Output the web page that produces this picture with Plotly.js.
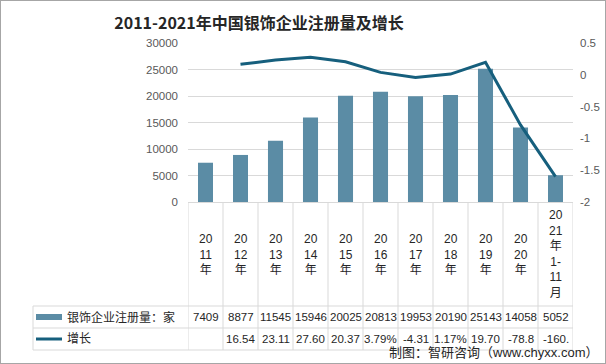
<!DOCTYPE html>
<html>
<head>
<meta charset="utf-8">
<script src="https://cdn.plot.ly/plotly-3.0.1.min.js"></script>
<style>
html,body{margin:0;padding:0;background:#fff;}
#wrap{position:relative;width:606px;height:364px;}
#chart{width:606px;height:364px;}
#frame{position:absolute;left:0;top:0;width:606px;height:364px;box-sizing:border-box;border:1px solid #a6a6a6;pointer-events:none;}
</style>
</head>
<body>
<div id="wrap"><div id="chart"></div><div id="frame"></div></div>
<script>
// ---- data ----
var categories = ['2011年','2012年','2013年','2014年','2015年','2016年','2017年','2018年','2019年','2020年','2021年1-11月'];
var categoryLabels = ['20<br>11<br>年','20<br>12<br>年','20<br>13<br>年','20<br>14<br>年','20<br>15<br>年','20<br>16<br>年','20<br>17<br>年','20<br>18<br>年','20<br>19<br>年','20<br>20<br>年','20<br>21<br>年<br>1-<br>11<br>月'];
var registrations = [7409, 8877, 11545, 15946, 20025, 20813, 19953, 20190, 25143, 14058, 5052];
var growthPct = [null, 16.54, 23.11, 27.60, 20.37, 3.79, -4.31, 1.17, 19.70, -78.8, -160.2];
var growthLabels = ['', '16.54', '23.11', '27.60', '20.37', '3.79%', '-4.31', '1.17%', '19.70', '-78.8', '-160.'];
var seriesNames = ['银饰企业注册量：家', '增长'];
var leftTicks = [0, 5000, 10000, 15000, 20000, 25000, 30000];
var leftTickText = ['0', '5000', '10000', '15000', '20000', '25000', '30000'];
var rightTicks = [-2, -1.5, -1, -0.5, 0, 0.5];
var rightTickText = ['-2', '-1.5', '-1', '-0.5', '0', '0.5'];

var barColor = '#5b8ca5';
var lineColor = '#165f7d';
var gridColor = '#d9d9d9';
var textColor = '#595959';
var FONT = 'Liberation Sans, "Noto Sans CJK SC", sans-serif';

// ---- geometry helpers (paper coords) ----
var L = 188, R = 573, T = 43, B = 202;
var PW = R - L, PH = B - T;
function px2x(p){ return (p - L) / PW; }
function px2y(p){ return (B - p) / PH; }

var growthRatio = growthPct.map(function(v){ return v === null ? null : v / 100; });

var traces = [
  {type:'bar', x:categories, y:registrations, name:seriesNames[0], marker:{color:barColor}, yaxis:'y', hoverinfo:'x+y'},
  {type:'scatter', mode:'lines', x:categories, y:growthRatio, name:seriesNames[1], line:{color:lineColor, width:3}, yaxis:'y2'}
];

var shapes = [];
var annotations = [];
var n = categories.length;
var yCatTop = px2y(B), yRow1 = px2y(306), yRow2 = px2y(328), yRow3 = px2y(350);
var xLeft = px2x(33);

// vertical cell lines
for (var i = 0; i <= n; i++) {
  shapes.push({type:'line', xref:'x', yref:'paper', x0:i-0.5, x1:i-0.5, y0:yCatTop, y1:yRow3, line:{color:gridColor, width:1}});
}
// horizontal lines
[yRow1, yRow2, yRow3].forEach(function(yy){
  shapes.push({type:'line', xref:'paper', yref:'paper', x0:xLeft, x1:1, y0:yy, y1:yy, line:{color:gridColor, width:1}});
});
shapes.push({type:'line', xref:'paper', yref:'paper', x0:xLeft, x1:xLeft, y0:yRow1, y1:yRow3, line:{color:gridColor, width:1}});

// legend keys in table
shapes.push({type:'rect', xref:'paper', yref:'paper', x0:px2x(36), x1:px2x(62), y0:px2y(320), y1:px2y(314), fillcolor:barColor, line:{width:0}});
shapes.push({type:'line', xref:'paper', yref:'paper', x0:px2x(36), x1:px2x(62), y0:px2y(339), y1:px2y(339), line:{color:lineColor, width:3}});

annotations.push({xref:'paper', yref:'paper', x:px2x(65), y:px2y(317), xanchor:'left', yanchor:'middle', text:seriesNames[0], showarrow:false, font:{family:FONT, size:12, color:'#262626'}});
annotations.push({xref:'paper', yref:'paper', x:px2x(65), y:px2y(339), xanchor:'left', yanchor:'middle', text:seriesNames[1], showarrow:false, font:{family:FONT, size:12, color:'#262626'}});

for (var j = 0; j < n; j++) {
  annotations.push({xref:'x', yref:'paper', x:categories[j], y:px2y(254), xanchor:'center', yanchor:'middle', text:categoryLabels[j], showarrow:false, font:{family:FONT, size:12, color:'#262626'}});
  annotations.push({xref:'x', yref:'paper', x:categories[j], y:px2y(317), xanchor:'center', yanchor:'middle', text:String(registrations[j]), showarrow:false, font:{family:FONT, size:11.5, color:'#262626'}});
  annotations.push({xref:'x', yref:'paper', x:categories[j], y:px2y(339), xanchor:'center', yanchor:'middle', text:growthLabels[j], showarrow:false, font:{family:FONT, size:11.5, color:'#262626'}});
}

// source note
annotations.push({xref:'paper', yref:'paper', x:px2x(600), y:px2y(352), xanchor:'right', yanchor:'middle', text:'制图：智研咨询（www.chyxx.com）', showarrow:false, font:{family:FONT, size:13, color:'#262626'}});

var layout = {
  width:606, height:364,
  margin:{l:L, r:606-R, t:T, b:364-B, pad:0},
  paper_bgcolor:'#fff', plot_bgcolor:'#fff',
  showlegend:false,
  bargap:0.57,
  title:{text:'2011-2021年中国银饰企业注册量及增长', font:{family:'"Noto Sans CJK SC", sans-serif', size:16, color:'#262626', weight:'bold'}, x:259/606, xref:'container', xanchor:'center', y:1-23/364, yref:'container', yanchor:'middle'},
  xaxis:{type:'category', showticklabels:false, showgrid:false, zeroline:false, showline:false, ticks:'', range:[-0.5, n-0.5], fixedrange:true},
  yaxis:{range:[0,30000], tickvals:leftTicks, ticktext:leftTickText, showgrid:true, gridcolor:gridColor, zeroline:true, zerolinecolor:gridColor, showline:false, ticks:'', ticklabelstandoff:9, tickfont:{family:FONT, size:11.5, color:textColor}},
  yaxis2:{overlaying:'y', side:'right', range:[-2,0.5], tickvals:rightTicks, ticktext:rightTickText, showgrid:false, zeroline:false, showline:false, ticks:'', ticklabelstandoff:6, tickfont:{family:FONT, size:11.5, color:textColor}},
  shapes:shapes,
  annotations:annotations
};

Plotly.newPlot('chart', traces, layout, {displayModeBar:false, staticPlot:true});
</script>
</body>
</html>
